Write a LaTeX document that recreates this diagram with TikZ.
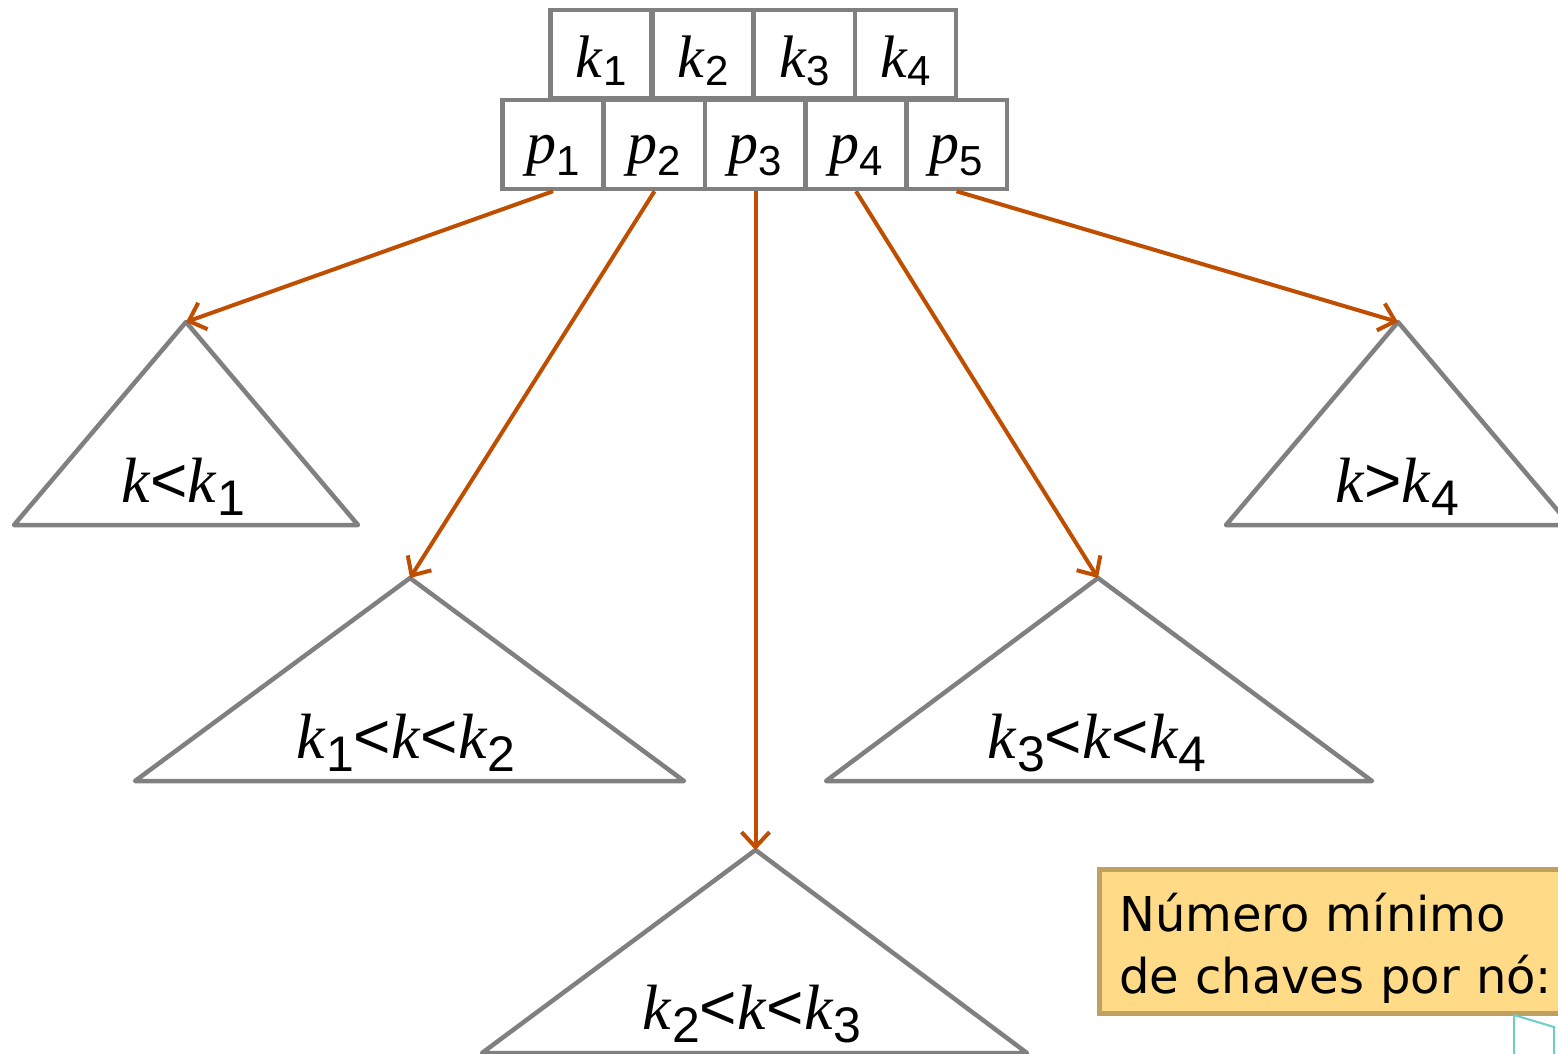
\documentclass[tikz,border=0pt]{standalone}
\usepackage{fontspec}
\setmainfont{Liberation Serif}
\newfontfamily\sansf{Liberation Sans}
\newfontfamily\boxf{DejaVu Sans}
\usetikzlibrary{arrows.meta}
\definecolor{edgec}{RGB}{128,128,128}
\definecolor{arrc}{RGB}{192,78,0}
\definecolor{boxfill}{RGB}{255,219,136}
\definecolor{boxline}{RGB}{190,160,96}
\definecolor{cyanl}{RGB}{110,205,200}
\newcommand{\mv}[1]{{\itshape #1\/}}
\newcommand{\lsub}[1]{\raisebox{-13pt}{\sansf\fontsize{50}{52}\selectfont #1}}
\newcommand{\ksub}[1]{\raisebox{-8pt}{\sansf\fontsize{42}{44}\selectfont #1}}
\newcommand{\psub}[1]{\raisebox{-12pt}{\sansf\fontsize{42}{44}\selectfont #1}}
\newcommand{\rel}[1]{{\sansf #1}}
\begin{document}
\begin{tikzpicture}[x=1pt,y=-1pt,
  cellbox/.style={draw=edgec, line width=4.5pt, minimum width=101pt, minimum height=88pt, inner sep=0pt, text height=46pt, text depth=0pt, font=\fontsize{60}{62}\selectfont},
  pcell/.style={cellbox, minimum height=89pt, text height=38pt},
  tri/.style={draw=edgec, line width=4.5pt, line join=round},
  arr/.style={draw=arrc, line width=4pt, -{Straight Barb[length=15pt,width=28pt,line width=4pt]}},
  lab/.style={anchor=base, inner sep=0pt, font=\fontsize{64}{70}\selectfont},
  notebox/.style={draw=boxline, fill=boxfill, line width=4.5pt, anchor=north west, minimum width=520pt, minimum height=144pt, inner xsep=20pt, inner ysep=0pt, align=left, text width=480pt, font=\boxf\fontsize{48}{62}\selectfont}]
\useasboundingbox (0,0) rectangle (1558,1053);
% keys row
\node[cellbox] (k1) at (601,54) {\mv{k}\ksub{1}};
\node[cellbox] (k2) at (703,54) {\mv{k}\ksub{2}};
\node[cellbox] (k3) at (804.5,54) {\mv{k}\ksub{3}};
\node[cellbox] (k4) at (905.5,54) {\mv{k}\ksub{4}};
% pointer row
\node[pcell] (p1) at (553,144.5) {\mv{p}\psub{1}};
\node[pcell] (p2) at (654.5,144.5) {\mv{p}\psub{2}};
\node[pcell] (p3) at (755.5,144.5) {\mv{p}\psub{3}};
\node[pcell] (p4) at (856,144.5) {\mv{p}\psub{4}};
\node[pcell] (p5) at (956.5,144.5) {\mv{p}\psub{5}};
% apexes
\coordinate (a1) at (186,322);
\coordinate (a2) at (410,578);
\coordinate (a3) at (755.5,850);
\coordinate (a4) at (1098,578);
\coordinate (a5) at (1398,322);
% triangles
\draw[tri] (a1) -- (14,525) -- (358,525) -- cycle;
\draw[tri] (a2) -- (135,781) -- (684,781) -- cycle;
\draw[tri] (a3) -- (482,1053) -- (1027,1053) -- cycle;
\draw[tri] (a4) -- (826,781) -- (1372,781) -- cycle;
\draw[tri] (a5) -- (1226,525) -- (1570,525) -- cycle;
% labels
\node[lab] (l1) at (183,502) {\mv{k}\rel{<}\mv{k}\lsub{1}};
\node[lab] (l2) at (406,758) {\mv{k}\lsub{1}\rel{<}\mv{k}\rel{<}\mv{k}\lsub{2}};
\node[lab] (l3) at (752,1029) {\mv{k}\lsub{2}\rel{<}\mv{k}\rel{<}\mv{k}\lsub{3}};
\node[lab] (l4) at (1097,758) {\mv{k}\lsub{3}\rel{<}\mv{k}\rel{<}\mv{k}\lsub{4}};
\node[lab] (l5) at (1397,502) {\mv{k}\rel{>}\mv{k}\lsub{4}};
% arrows
\draw[arr] (p1.south) -- (a1);
\draw[arr] (p2.south) -- (a2);
\draw[arr] (p3.south) -- (a3);
\draw[arr] (p4.south) -- (a4);
\draw[arr] (p5.south) -- (a5);
% note box
\node[notebox] (note) at (1097,867) {\rule{0pt}{52pt}Número mínimo\\de chaves por nó:};
% partial cyan shape
\draw[cyanl, line width=2pt] (1514,1060) -- (1514,1015) coordinate (c1) -- (1554,1027) coordinate (c2) -- (1554,1060);
\end{tikzpicture}
\end{document}
